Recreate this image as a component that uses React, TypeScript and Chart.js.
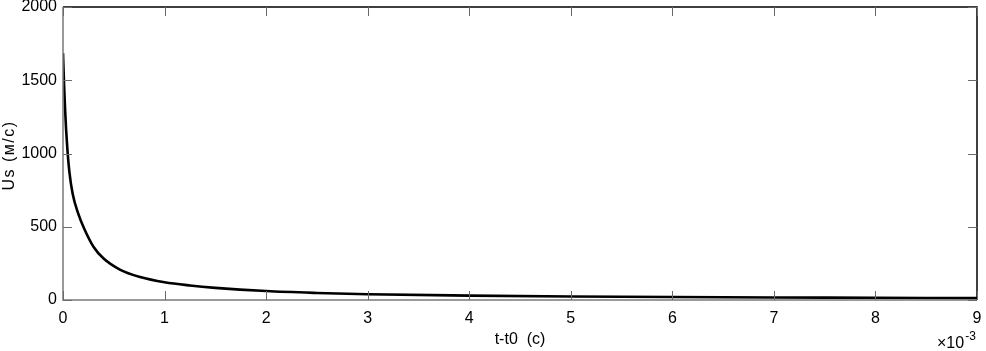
import React, { useEffect, useRef } from "react";
import { Chart, registerables } from "chart.js";

Chart.register(...registerables);

// time t - t0, in units of 1e-3 s
const timeMs = [0, 0.01, 0.02, 0.03, 0.042, 0.062, 0.095, 0.15, 0.207, 0.3, 0.4, 0.56, 0.76, 1.0, 1.25, 1.5, 2.0, 2.5, 3.0, 4.0, 5.0, 6.0, 7.0, 8.0, 9.0];
// shock velocity Us, m/s
const usValues = [1685, 1480, 1310, 1170, 1040, 880, 725, 590, 490, 364, 283, 208, 157, 121, 99, 83, 61, 48, 39, 30, 24, 20, 17, 15, 13];
const xTicks = [0, 1, 2, 3, 4, 5, 6, 7, 8, 9];
const yTicks = [0, 500, 1000, 1500, 2000];
const xTitle = "t-t0  (c)";
const yTitle = "Us (м/с)";

const FONT = "Liberation Sans, Arial, Helvetica, sans-serif";

const framePlugin = {
  id: "matlabFrame",
  afterDatasetsDraw(chart: any) {
    const { ctx, chartArea } = chart;
    const { left, right, top, bottom } = chartArea;
    const xs = chart.scales.x;
    const ys = chart.scales.y;
    const tl = 9;
    ctx.save();
    ctx.strokeStyle = "#000";
    ctx.lineWidth = 1.5;
    ctx.beginPath();
    ctx.moveTo(left, top);
    ctx.lineTo(right, top);
    ctx.lineTo(right, bottom);
    ctx.stroke();
    ctx.strokeStyle = "#7a7a7a";
    ctx.lineWidth = 1.5;
    ctx.beginPath();
    ctx.moveTo(left, top);
    ctx.lineTo(left, bottom);
    ctx.lineTo(right, bottom);
    ctx.stroke();
    ctx.lineWidth = 1;
    ctx.strokeStyle = "#6a6a6a";
    ctx.beginPath();
    for (const v of xTicks) {
      const px = Math.round(xs.getPixelForValue(v)) + 0.5;
      ctx.moveTo(px, bottom);
      ctx.lineTo(px, bottom - tl);
      ctx.moveTo(px, top);
      ctx.lineTo(px, top + tl);
    }
    for (const v of yTicks) {
      const py = Math.round(ys.getPixelForValue(v)) + 0.5;
      ctx.moveTo(left, py);
      ctx.lineTo(left + tl, py);
      ctx.moveTo(right, py);
      ctx.lineTo(right - tl, py);
    }
    ctx.stroke();
    // y axis title (rotated, slightly spaced)
    ctx.fillStyle = "#000";
    ctx.save();
    ctx.translate(10, (top + bottom) / 2 + 2);
    ctx.rotate(-Math.PI / 2);
    ctx.font = `16px ${FONT}`;
    (ctx as any).letterSpacing = "1.5px";
    ctx.textAlign = "center";
    ctx.textBaseline = "middle";
    ctx.fillText(yTitle, 0, 0);
    ctx.restore();
    // exponent label
    ctx.textBaseline = "alphabetic";
    ctx.textAlign = "left";
    ctx.font = `16px ${FONT}`;
    const ex = 937;
    const ey = 348;
    ctx.fillText("\u00d710", ex, ey);
    const w = ctx.measureText("\u00d710").width;
    ctx.font = `12px ${FONT}`;
    ctx.fillText("-3", ex + w + 1, ey - 8);
    ctx.restore();
  },
};

export default function App() {
  const ref = useRef<HTMLCanvasElement | null>(null);
  useEffect(() => {
    document.body.style.margin = "0";
    const canvas = ref.current;
    if (!canvas) return;
    const chart = new Chart(canvas, {
      type: "line",
      data: {
        datasets: [
          {
            data: timeMs.map((t, i) => ({ x: t, y: usValues[i] })),
            borderColor: "#000",
            borderWidth: 2.6,
            pointRadius: 0,
            cubicInterpolationMode: "monotone",
            fill: false,
          },
        ],
      },
      options: {
        animation: false,
        responsive: false,
        maintainAspectRatio: false,
        layout: { padding: 0 },
        plugins: { legend: { display: false }, tooltip: { enabled: false } },
        scales: {
          x: {
            type: "linear",
            min: 0,
            max: 9,
            afterBuildTicks: (s: any) => {
              s.ticks = xTicks.map((v) => ({ value: v }));
            },
            afterFit: (s: any) => {
              s.height = 51;
              s.paddingLeft = 0;
              s.paddingRight = 9;
            },
            grid: { display: false, drawTicks: false },
            border: { display: false },
            ticks: {
              color: "#000",
              font: { family: FONT, size: 16 },
              padding: 9,
              maxRotation: 0,
              autoSkip: false,
              callback: (v: any) => String(v),
            },
            title: {
              display: true,
              text: xTitle,
              color: "#000",
              font: { family: FONT, size: 16 },
              padding: { top: 0, bottom: 2 },
            },
          },
          y: {
            type: "linear",
            min: 0,
            max: 2000,
            afterBuildTicks: (s: any) => {
              s.ticks = yTicks.map((v) => ({ value: v }));
            },
            afterFit: (s: any) => {
              s.width = 63;
              s.paddingTop = 7;
              s.paddingBottom = 0;
            },
            grid: { display: false, drawTicks: false },
            border: { display: false },
            ticks: {
              color: "#000",
              font: { family: FONT, size: 16 },
              padding: 6,
              autoSkip: false,
              callback: (v: any) => String(v),
            },
          },
        },
      },
      plugins: [framePlugin],
    });
    return () => chart.destroy();
  }, []);
  return (
    <div style={{ position: "fixed", left: 0, top: 0, width: 986, height: 351, background: "#fff" }}>
      <canvas ref={ref} width={986} height={351} style={{ width: 986, height: 351, display: "block" }} />
    </div>
  );
}
